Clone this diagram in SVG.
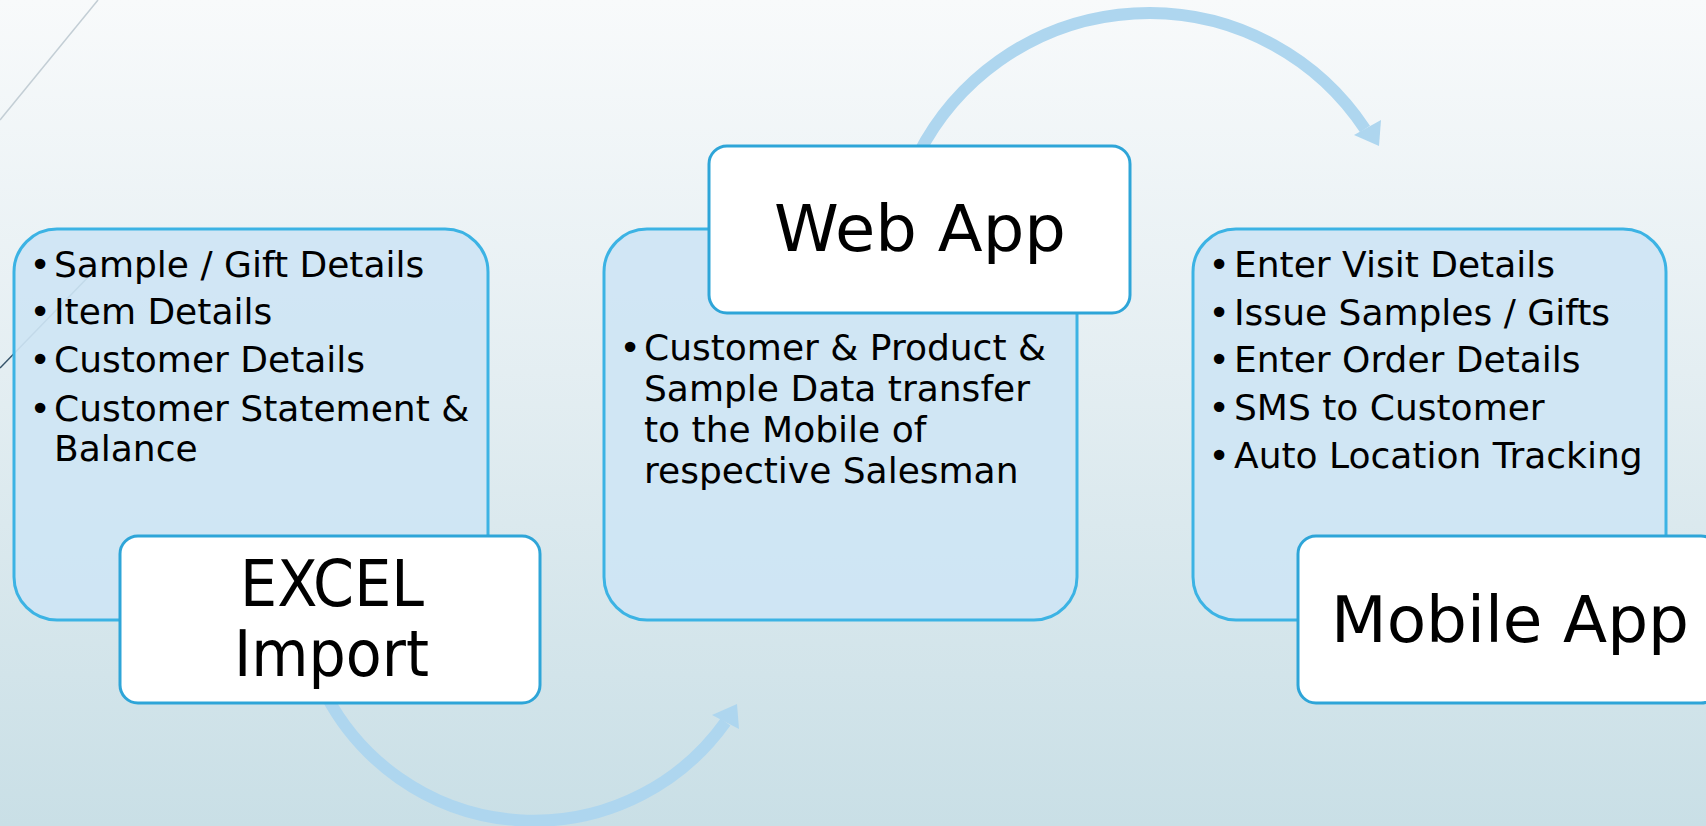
<svg xmlns="http://www.w3.org/2000/svg" width="1706" height="826" viewBox="0 0 1706 826">
  <defs>
    <linearGradient id="bg" x1="0" y1="0" x2="0" y2="1">
      <stop offset="0" stop-color="#f8fafb"/>
      <stop offset="0.45" stop-color="#e4eef2"/>
      <stop offset="1" stop-color="#c9dfe6"/>
    </linearGradient>
  </defs>
  <style>
    .panel { fill: #cee5f4; fill-opacity: 0.92; stroke: #3cb3e4; stroke-width: 3; }
    .title { fill: #ffffff; stroke: #2ea5d8; stroke-width: 3; }
    .arc { fill: none; stroke: #aed6ef; stroke-width: 12; }
    .head { fill: #aed6ef; }
    .bul { font-family: "DejaVu Sans", "Liberation Sans", sans-serif; font-size: 36px; fill: #000000; }
    .ttl { font-family: "DejaVu Sans", "Liberation Sans", sans-serif; font-size: 64px; fill: #000000; text-anchor: middle; }
  </style>
  <rect x="0" y="0" width="1706" height="826" fill="url(#bg)"/>
  <g id="decor">
    <line x1="98" y1="0" x2="0" y2="120" stroke="#c3ced5" stroke-width="1.5"/>
    <line x1="0" y1="368" x2="94" y2="271" stroke="#36546a" stroke-width="1.5"/>
  </g>
  <g id="connectors">
    <path class="arc" d="M 918 155 A 259 259 0 0 1 1365 129"/>
    <polygon class="head" points="1379,146 1354,135 1381,120"/>
    <path class="arc" d="M 326 695 A 235 235 0 0 0 725.5 722"/>
    <polygon class="head" points="737,704 712,715 739,729"/>
  </g>
  <g id="excel-import">
    <rect class="panel" x="14" y="229" width="474" height="391" rx="43" ry="43"/>
    <text class="bul" y="277"><tspan x="29.5">•</tspan><tspan x="54">Sample / Gift Details</tspan></text>
    <text class="bul" y="324"><tspan x="29.5">•</tspan><tspan x="54">Item Details</tspan></text>
    <text class="bul" y="372"><tspan x="29.5">•</tspan><tspan x="54">Customer Details</tspan></text>
    <text class="bul" y="421"><tspan x="29.5">•</tspan><tspan x="54">Customer Statement &amp;</tspan></text>
    <text class="bul" x="54" y="461">Balance</text>
    <rect class="title" x="120" y="536" width="420" height="167" rx="18" ry="18"/>
    <text class="ttl" x="332" y="606" textLength="184" lengthAdjust="spacingAndGlyphs">EXCEL</text>
    <text class="ttl" x="331.5" y="676" textLength="195" lengthAdjust="spacingAndGlyphs">Import</text>
  </g>
  <g id="web-app">
    <rect class="panel" x="604" y="229" width="473" height="391" rx="43" ry="43"/>
    <text class="bul" y="360"><tspan x="619.5">•</tspan><tspan x="644">Customer &amp; Product &amp;</tspan></text>
    <text class="bul" x="644" y="401">Sample Data transfer</text>
    <text class="bul" x="644" y="442">to the Mobile of</text>
    <text class="bul" x="644" y="483">respective Salesman</text>
    <rect class="title" x="709" y="146" width="421" height="167" rx="18" ry="18"/>
    <text class="ttl" x="920" y="251" textLength="292" lengthAdjust="spacingAndGlyphs">Web App</text>
  </g>
  <g id="mobile-app">
    <rect class="panel" x="1193" y="229" width="473" height="391" rx="43" ry="43"/>
    <text class="bul" y="277"><tspan x="1208.5">•</tspan><tspan x="1234">Enter Visit Details</tspan></text>
    <text class="bul" y="325"><tspan x="1208.5">•</tspan><tspan x="1234">Issue Samples / Gifts</tspan></text>
    <text class="bul" y="372"><tspan x="1208.5">•</tspan><tspan x="1234">Enter Order Details</tspan></text>
    <text class="bul" y="420"><tspan x="1208.5">•</tspan><tspan x="1234">SMS to Customer</tspan></text>
    <text class="bul" y="468"><tspan x="1208.5">•</tspan><tspan x="1234">Auto Location Tracking</tspan></text>
    <rect class="title" x="1298" y="536" width="421" height="167" rx="18" ry="18"/>
    <text class="ttl" x="1510" y="642" textLength="358" lengthAdjust="spacingAndGlyphs">Mobile App</text>
  </g>
</svg>
